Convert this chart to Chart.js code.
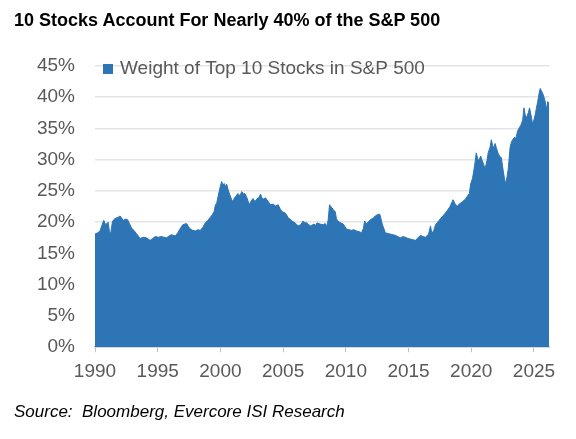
<!DOCTYPE html>
<html>
<head>
<meta charset="utf-8">
<script src="https://cdn.jsdelivr.net/npm/chart.js@4.4.1/dist/chart.umd.min.js"></script>
<style>
  body { margin: 0; background: #fff; }
  #wrap { position: relative; width: 576px; height: 439px; }
  #title { position: absolute; left: 14px; top: 10px; font: bold 18px "Liberation Sans", Arial, sans-serif; color: #000; }
  #source { position: absolute; left: 14px; top: 402px; font: italic 17px "Liberation Sans", Arial, sans-serif; color: #000; }
  canvas { position: absolute; left: 0; top: 0; }
</style>
</head>
<body>
<div id="wrap">
  <canvas id="chart" width="576" height="439"></canvas>
  <div id="title">10 Stocks Account For Nearly 40% of the S&amp;P 500</div>
  <div id="source">Source:&nbsp; Bloomberg, Evercore ISI Research</div>
</div>
<script>
// weight of the 10 biggest names (decimal years)
var years = [
  1990.0,1990.2,1990.4,1990.55,1990.7,1990.85,1991.05,1991.15,1991.25,1991.4,1991.55,1991.7,1991.85,
  1992.0,1992.15,1992.25,1992.45,1992.6,1992.75,1992.9,1993.1,1993.3,1993.45,1993.6,1993.85,
  1994.1,1994.25,1994.4,1994.6,1994.8,1995.05,1995.3,1995.5,1995.7,1995.9,1996.1,1996.4,1996.6,1996.8,
  1997.0,1997.3,1997.45,1997.6,1997.8,1998.0,1998.2,1998.4,1998.6,1998.8,1999.0,1999.2,1999.35,1999.5,
  1999.6,1999.7,1999.8,1999.9,2000.0,2000.1,2000.2,2000.3,2000.4,2000.5,2000.6,2000.75,2000.9,
  2001.0,2001.1,2001.2,2001.4,2001.55,2001.7,2001.85,2001.95,2002.1,2002.3,2002.45,2002.6,2002.75,2002.9,
  2003.05,2003.2,2003.3,2003.45,2003.6,2003.7,2003.85,2004.0,2004.2,2004.4,2004.6,2004.75,2004.9,
  2005.15,2005.3,2005.4,2005.55,2005.7,2005.95,2006.2,2006.4,2006.6,2006.75,2006.9,2007.05,2007.2,
  2007.45,2007.6,2007.7,2007.95,2008.2,2008.35,2008.5,2008.6,2008.7,2008.8,2008.9,2009.0,2009.15,
  2009.25,2009.35,2009.5,2009.6,2009.8,2010.05,2010.25,2010.45,2010.65,2010.85,2011.05,2011.25,
  2011.4,2011.5,2011.65,2011.8,2011.9,2012.05,2012.2,2012.35,2012.5,2012.7,2012.8,2012.9,2013.05,
  2013.15,2013.35,2013.55,2013.75,2013.95,2014.15,2014.35,2014.55,2014.75,2014.95,2015.15,2015.35,
  2015.55,2015.75,2015.95,2016.15,2016.35,2016.6,2016.75,2016.85,2017.0,2017.15,2017.4,2017.55,
  2017.7,2017.95,2018.1,2018.3,2018.55,2018.75,2018.9,2019.05,2019.3,2019.5,2019.7,2019.85,2019.95,
  2020.1,2020.2,2020.3,2020.4,2020.5,2020.6,2020.75,2020.85,2021.0,2021.1,2021.25,2021.35,2021.5,
  2021.6,2021.7,2021.8,2021.9,2022.0,2022.15,2022.25,2022.4,2022.55,2022.65,2022.75,2022.85,2022.95,
  2023.1,2023.2,2023.3,2023.45,2023.55,2023.7,2023.85,2023.95,2024.1,2024.2,2024.3,2024.4,2024.55,
  2024.65,2024.8,2024.9,2025.0,2025.1,2025.2,2025.3,2025.4,2025.5,2025.6,2025.7,2025.8,2025.9,
  2026.0,2026.1,2026.2
];
var weights = [
  18.1,18.3,18.6,19.5,20.3,19.6,20.0,18.5,18.2,20.2,20.5,20.7,20.8,
  21.0,20.6,20.3,20.5,20.4,19.8,19.1,18.7,18.2,17.8,17.4,17.6,
  17.5,17.3,17.1,17.4,17.7,17.6,17.7,17.6,17.5,17.8,18.0,17.8,18.3,19.0,
  19.6,19.8,19.3,18.9,18.7,18.6,18.8,18.7,19.2,19.9,20.3,20.8,21.2,21.7,
  22.8,23.0,24.0,24.9,25.8,26.5,25.9,26.2,25.7,26.1,25.3,24.4,23.6,
  23.3,23.8,24.1,24.6,24.2,24.9,24.5,24.6,24.0,22.8,23.4,23.8,23.3,23.7,
  23.9,24.5,23.9,23.7,23.9,23.6,23.2,22.8,22.9,22.6,22.8,22.2,21.7,
  21.5,21.1,20.7,20.5,20.2,19.9,19.4,19.6,20.2,19.9,19.9,19.6,19.4,
  19.7,19.5,19.9,19.7,19.6,19.8,19.4,20.5,22.8,22.5,22.3,22.0,21.7,
  20.6,20.2,20.0,19.9,19.7,18.9,18.8,18.7,18.8,18.6,18.5,18.3,
  19.0,20.2,19.7,20.1,20.3,20.5,20.7,21.0,21.2,21.3,20.6,19.7,18.9,
  18.3,18.2,18.1,18.0,17.9,17.7,17.5,17.7,17.6,17.4,17.3,17.2,
  17.1,17.5,17.9,17.7,17.6,18.1,19.4,18.3,18.6,19.6,20.2,20.6,
  20.9,21.5,21.9,22.5,23.6,22.8,22.6,22.9,23.3,23.6,24.2,24.6,26.1,
  27.0,28.2,29.5,31.1,30.3,29.8,30.6,30.0,29.2,28.5,29.8,31.1,32.0,
  33.2,32.3,31.9,32.6,31.9,31.0,30.6,30.3,28.2,27.0,26.1,27.2,28.5,
  32.0,32.8,33.2,33.6,33.4,34.6,35.2,35.5,36.3,38.3,37.2,36.7,37.5,
  38.3,36.8,35.6,36.4,37.2,38.3,39.3,40.5,41.4,41.0,40.6,40.0,39.3,
  38.0,39.3,39.0
];
var yearTicks = [1990, 1995, 2000, 2005, 2010, 2015, 2020, 2025];
var seriesLabel = 'Weight of Top 10 Stocks in S&P 500';

var blue = '#2e75b6';
var grey = '#595959';
var points = years.map(function (y, i) { return { x: y, y: weights[i] }; });

// legend sits inside the plot, top left
var boxLegend = {
  id: 'boxLegend',
  afterDraw: function (chart) {
    var c = chart.ctx, a = chart.chartArea;
    c.save();
    c.fillStyle = blue;
    c.fillRect(a.left + 8, a.top - 2, 10, 10);
    c.fillStyle = grey;
    c.font = '19px "Liberation Sans", Arial, sans-serif';
    c.textBaseline = 'middle';
    c.fillText(seriesLabel, a.left + 25, a.top + 3);
    c.restore();
  }
};

new Chart(document.getElementById('chart'), {
  type: 'line',
  data: {
    datasets: [{
      label: seriesLabel,
      data: points,
      fill: 'origin',
      backgroundColor: blue,
      borderColor: blue,
      borderWidth: 1,
      pointRadius: 0,
      tension: 0
    }]
  },
  options: {
    responsive: false,
    animation: false,
    layout: { padding: { top: 66, right: 27, bottom: 48, left: 0 } },
    plugins: {
      legend: { display: false },
      tooltip: { enabled: false }
    },
    scales: {
      x: {
        type: 'linear',
        min: 1990,
        max: 2026.2,
        afterBuildTicks: function (axis) {
          axis.ticks = yearTicks.map(function (v) { return { value: v }; });
        },
        ticks: {
          color: grey,
          font: { family: '"Liberation Sans", Arial, sans-serif', size: 19 },
          padding: 8,
          maxRotation: 0,
          callback: function (v) { return String(v); }
        },
        grid: { drawOnChartArea: false, drawTicks: true, tickLength: 5, color: '#bfbfbf' },
        border: { color: '#bfbfbf', width: 1.5 }
      },
      y: {
        min: 0,
        max: 45,
        afterFit: function (axis) { axis.width = 95; },
        ticks: {
          stepSize: 5,
          color: grey,
          padding: 20,
          font: { family: '"Liberation Sans", Arial, sans-serif', size: 19 },
          callback: function (v) { return v + '%'; }
        },
        grid: { color: '#e4e4e4', lineWidth: 1.5, drawTicks: false },
        border: { display: false }
      }
    }
  },
  plugins: [boxLegend]
});
</script>
</body>
</html>
